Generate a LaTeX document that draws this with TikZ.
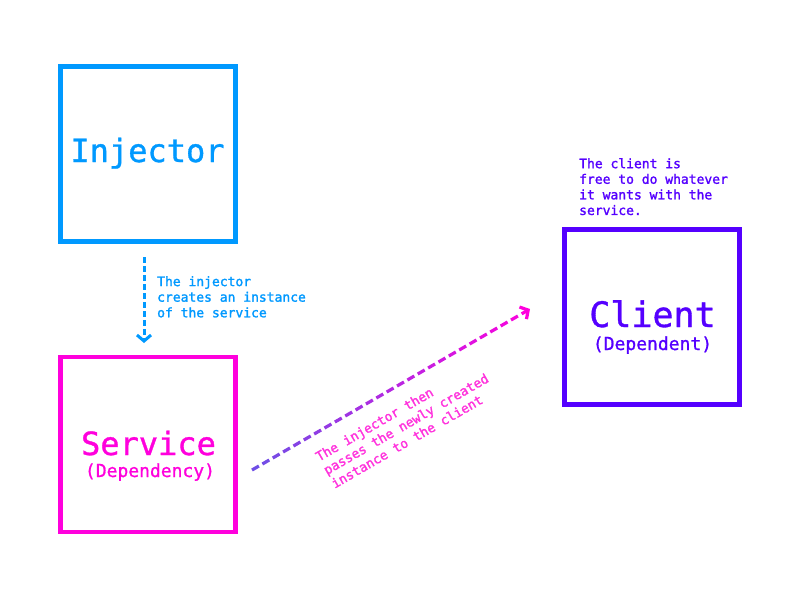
\documentclass[tikz,border=0pt]{standalone}
\usepackage{fontspec}
\setmainfont{DejaVu Sans Mono}[FakeBold=1]
\newfontfamily\notefont{DejaVu Sans Mono}[FakeBold=1.6]
\usetikzlibrary{arrows.meta,calc}
\definecolor{injblue}{HTML}{0099FF}
\definecolor{srvmag}{HTML}{FF00DD}
\definecolor{clipur}{HTML}{5500FF}
\definecolor{arrstart}{HTML}{6E4FE6}
\definecolor{labmag}{HTML}{FF33DD}
\begin{document}
\begin{tikzpicture}[x=1pt,y=-1pt,
  box/.style={draw,line width=4.5pt,minimum width=175pt,minimum height=175pt,inner sep=0pt},
  big/.style={anchor=base,inner sep=0pt,font=\fontsize{32}{38}\selectfont},
  sub/.style={anchor=base,inner sep=0pt,font=\fontsize{18}{22}\selectfont},
  note/.style={anchor=north west,inner sep=0pt,align=left,font=\notefont\fontsize{13}{15.6}\selectfont},
  barb/.style={-{Straight Barb[length=6pt,width=14pt]}}
]
\fill[white] (0,0) rectangle (800,600);
\useasboundingbox (0,0) rectangle (800,600);

% boxes
\node[box,draw=injblue] (injbox) at (148,154) {};
\node[big,text=injblue] (injtxt) at (147.5,162) {Injector};
\node[box,draw=srvmag] (srvbox) at (148,444.5) {};
\node[big,text=srvmag] (srvtxt) at (148.5,455) {Service};
\node[sub,text=srvmag] (srvsub) at (150,477) {(Dependency)};
\node[box,draw=clipur] (clibox) at (652,317) {};
\node[big,text=clipur,font=\fontsize{35}{40}\selectfont] (clitxt) at (652.5,327) {Client};
\node[sub,text=clipur] (clisub) at (652.5,350) {(Dependent)};

% notes
\node[note,text=injblue] (injnote) at (157,276) {The injector\\creates an instance\\of the service};
\node[note,text=clipur] (clinote) at (579,158) {The client is\\free to do whatever\\it wants with the\\service.};
\node[note,text=labmag,rotate=30] (passnote) at (314,453) {The injector then\\passes the newly created\\instance to the client};

% vertical arrow
\coordinate (vstart) at (144,257);
\coordinate (vend) at (144,343);
\draw[injblue,line width=3pt,dash pattern=on 6pt off 3pt,barb] (vstart) -- (vend);

% diagonal gradient arrow
\coordinate (dstart) at (252,470);
\coordinate (dend) at (530,309);
\foreach \i in {0,...,25}{
  \pgfmathsetmacro\ta{\i*12/322}
  \pgfmathsetmacro\tb{(\i*12+8)/322}
  \pgfmathtruncatemacro\pc{100*(\ta+\tb)/2}
  \draw[line width=3.2pt,color=srvmag!\pc!arrstart] ($(dstart)!\ta!(dend)$) -- ($(dstart)!\tb!(dend)$);
}
\draw[srvmag,line width=3.2pt,barb] ($(dstart)!0.97!(dend)$) -- (dend);
\end{tikzpicture}
\end{document}
